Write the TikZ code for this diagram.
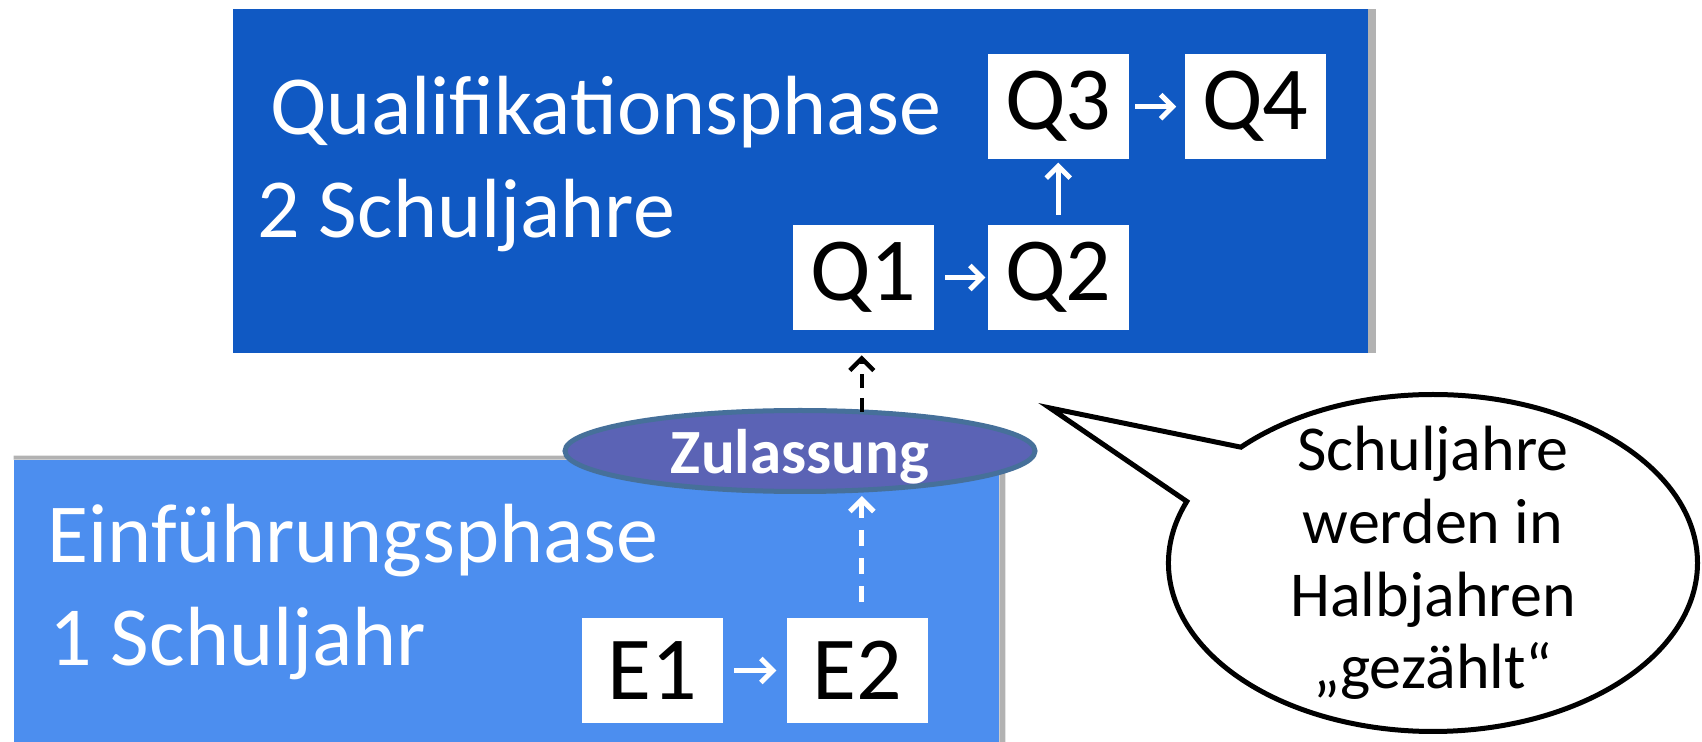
\documentclass[tikz,border=0pt]{standalone}
\usepackage{fontspec}
\setmainfont{Carlito}
\usetikzlibrary{positioning,shapes.geometric,shapes.callouts,arrows.meta}
\definecolor{qblue}{RGB}{16,89,195}
\definecolor{eblue}{RGB}{76,142,239}
\definecolor{zfill}{RGB}{91,99,181}
\definecolor{zline}{RGB}{70,112,154}

\begin{document}
\begin{tikzpicture}[x=0.5pt,y=-0.5pt,
	>={Straight Barb[length=6pt,width=12pt]},
	title/.style={white,anchor=base west,inner sep=0pt,font=\fontsize{42}{42}\selectfont},
	semester/.style={fill=white,inner sep=0pt,minimum width=70.5pt,minimum height=52.5pt,font=\fontsize{45}{45}\selectfont},
	flow/.style={white,line width=2.5pt}]
	\useasboundingbox (0,0) rectangle (1702,742);

	% the two phases
	\node(qph)[fill=qblue,inner sep=0pt,minimum width=567.5pt,minimum height=172pt] at (800.5,181){};
	\fill[gray!60] (qph.north east) rectangle ([xshift=4pt]qph.south east);
	\node(eph)[fill=eblue,inner sep=0pt,minimum width=492.5pt,minimum height=141pt] at (506.5,601){};
	\fill[gray!60] ([yshift=2pt]eph.north west) rectangle ([xshift=3pt]eph.north east)
		(eph.north east) rectangle ([xshift=3pt]eph.south east);

	\node(qtitle)[title] at (270,135){Qualifikationsphase};
	\node(qyears)[title] at (257,238){2 Schuljahre};
	\node(etitle)[title] at (47,562){Einführungsphase};
	\node(eyears)[title] at (49,665){1 Schuljahr};

	% half years
	\node(q1)[semester] at (863.5,277.5){Q1};
	\node(q2)[semester,right=26.5pt of q1]{Q2};
	\node(q3)[semester,above=32.5pt of q2]{Q3};
	\node(q4)[semester,right=27.5pt of q3]{Q4};
	\node(e1)[semester] at (652.5,670.5){E1};
	\node(e2)[semester,right=31.5pt of e1]{E2};

	\path[->,flow]  (q1) edge[shorten <=5.5pt,shorten >=1pt] (q2)
	                (q2) edge[shorten <=5pt,shorten >=1.5pt] (q3)
	                (q3) edge[shorten <=3pt,shorten >=4pt] (q4)
	                (e1) edge[shorten <=5.5pt,shorten >=5pt] (e2);

	\node(zul)[ellipse,draw=zline,line width=2.5pt,fill=zfill,inner sep=0pt,minimum width=235pt,minimum height=40.5pt,
		text=white,text depth=0pt,font=\bfseries\fontsize{31.5}{31.5}\selectfont] at (800,451){Zulassung};

	\coordinate(ax) at ([xshift=2.25pt]e2.north);
	\draw[->,flow,dash pattern=on 8pt off 6pt,shorten <=8pt,shorten >=1pt] (ax) -- (ax |- zul.south);
	\draw[->,line width=2.2pt,dash pattern=on 7pt off 5pt,shorten <=-2pt,shorten >=1pt] (ax |- zul.north) -- (ax |- qph.south);

	% speech bubble
	\node(bub)[ellipse callout,draw,line width=2.5pt,fill=white,inner sep=0pt,minimum width=264.5pt,minimum height=168.5pt,
		callout absolute pointer={(1050,408)},callout pointer arc=22] at (1433,563){};
	\node(bubtxt)[align=center,font=\fontsize{32}{36.3}\selectfont] at (bub.center){Schuljahre\\werden in\\Halbjahren\\„gezählt“};
\end{tikzpicture}
\end{document}
